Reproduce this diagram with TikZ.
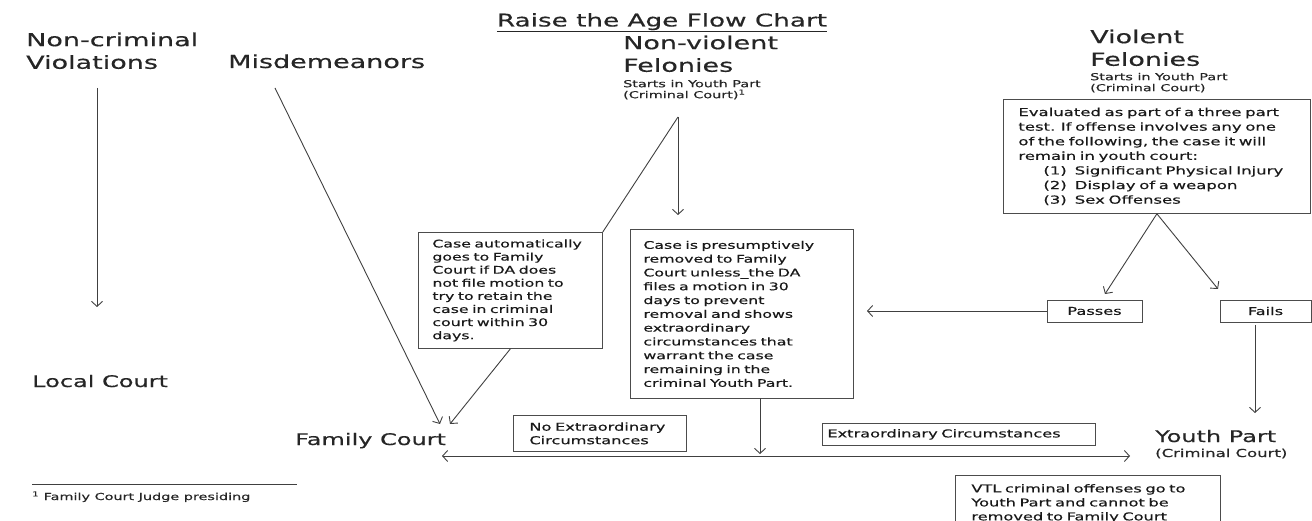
\documentclass[tikz,border=0pt]{standalone}
\usepackage{fontspec}
\setmainfont{DejaVu Sans}[FakeStretch=1.5,FakeBold=0.5]
\usetikzlibrary{arrows.meta,calc}
\begin{document}
\begin{tikzpicture}[x=1pt,y=-1pt,
  ln/.style={draw=black!75, line width=0.9pt},
  arr/.style={ln, -{Straight Barb[length=5pt,width=11pt]}},
  dbl/.style={ln, {Straight Barb[length=5pt,width=11pt]}-{Straight Barb[length=5pt,width=11pt]}},
  big/.style={font=\fontsize{18}{22.6}\selectfont, inner sep=0pt, align=left, text=black!85},
  mid/.style={font=\fontsize{16}{20}\selectfont, inner sep=0pt, text=black!85},
  small/.style={font=\fontsize{9.6}{11}\selectfont, inner sep=0pt, align=left, text=black!85},
  boxnode/.style={draw=black!70, line width=0.8pt, font=\fontsize{10.5}{13.1}\selectfont, align=left, text=black!90, anchor=north west, inner ysep=0pt},
  lbl/.style={draw=black!70, line width=0.8pt, font=\fontsize{10.8}{13.5}\selectfont, text=black!90, inner sep=0pt},
]
\useasboundingbox (0,0) rectangle (1312,521);

% title
\node[font=\fontsize{17.5}{20}\selectfont, anchor=base, inner sep=0pt, text=black!85] (title) at (662,26.5) {\underline{Raise the Age Flow Chart}};

% categories
\node[big, anchor=north west] (nc) at (26,32.3) {Non-criminal\\Violations};
\node[big, anchor=base west] (mis) at (228,68) {Misdemeanors};
\node[big, anchor=north west] (nv) at (623,35.3) {Non-violent\\Felonies};
\node[small, anchor=north west] (nvsub) at (623,79.7) {Starts in Youth Part\\(Criminal Court)\textsuperscript{1}};
\node[big, anchor=north west] (vf) at (1090,29.3) {Violent\\Felonies};
\node[small, anchor=north west] (vfsub) at (1090,72.7) {Starts in Youth Part\\(Criminal Court)};

% destinations
\node[mid, anchor=base west] (lc) at (32,387) {Local Court};
\node[mid, anchor=base west] (fc) at (295,445) {Family Court};
\node[mid, anchor=base west] (yp) at (1155,442) {Youth Part};
\node[font=\fontsize{11}{13}\selectfont, inner sep=0pt, anchor=base west, text=black!85] (ypsub) at (1155,457) {(Criminal Court)};

% boxes
\node[boxnode, minimum width=184pt, minimum height=116pt, inner xsep=14pt, text width=156pt] (box1) at (418,232)
 {Case automatically\\goes to Family\\Court if DA does\\not file motion to\\try to retain the\\case in criminal\\court within 30\\days.};
\node[boxnode, font=\fontsize{10.5}{13.8}\selectfont, minimum width=223pt, minimum height=169pt, inner xsep=13pt, text width=197pt] (box2) at (630,229)
 {Case is presumptively\\removed to Family\\Court unless\_the DA\\files a motion in 30\\days to prevent\\removal and shows\\extraordinary\\circumstances that\\warrant the case\\remaining in the\\criminal Youth Part.};
\node[boxnode, font=\fontsize{11}{14.6}\selectfont, minimum width=307pt, minimum height=114pt, inner xsep=15pt, text width=277pt] (vbox) at (1003,99)
 {Evaluated as part of a three part\\test. If offense involves any one\\of the following, the case it will\\remain in youth court:\\
 \hspace*{25pt}(1)\hspace*{8pt}Significant Physical Injury\\
 \hspace*{25pt}(2)\hspace*{8pt}Display of a weapon\\
 \hspace*{25pt}(3)\hspace*{8pt}Sex Offenses};

\node[lbl, minimum width=95pt, minimum height=22pt] (passes) at (1094.5,311) {Passes};
\node[lbl, minimum width=91pt, minimum height=22pt] (fails) at (1265.5,311) {Fails};
\node[lbl, anchor=north west, align=left, minimum width=173pt, minimum height=36pt, inner xsep=16pt, text width=141pt] (noex) at (513,415) {No Extraordinary\\Circumstances};
\node[lbl, anchor=north west, align=left, minimum width=273pt, minimum height=22pt, inner xsep=5pt, text width=263pt] (ex) at (822,423) {Extraordinary Circumstances};
\node[lbl, font=\fontsize{10.8}{14}\selectfont, anchor=north west, align=left, minimum width=265pt, minimum height=56pt, inner xsep=16pt, text width=233pt] (vtl) at (955,475) {VTL criminal offenses go to\\Youth Part and cannot be\\removed to Family Court};

% footnote
\draw[black!75, line width=0.8pt] (32,484) -- (297,484);
\node[small, anchor=base west] (fn) at (32,500) {\textsuperscript{1} Family Court Judge presiding};

% connector end points
\coordinate (ncA) at (97,88);
\coordinate (ncB) at (97,307);
\coordinate (misA) at (275,88);
\coordinate (fcIn1) at (440,424);
\coordinate (fcIn2) at (450,424);
\coordinate (nvA) at (678,117);
\coordinate (nvB) at (678,215);
\coordinate (b2out) at (760,398);
\coordinate (hMid) at (760,454);
\coordinate (hL) at (442,456);
\coordinate (hR) at (1130,456);
\coordinate (pIn) at (1105,294);
\coordinate (fIn) at (1218,289);
\coordinate (pOut) at (867,311);
\coordinate (fOut) at (1255,325);
\coordinate (ypIn) at (1255,413);

% connectors
\draw[arr] (ncA) -- (ncB);
\draw[arr] (misA) -- (fcIn1);
\draw[ln] (nvA) -- (box1.north east);
\draw[arr] (box1.south) -- (fcIn2);
\draw[arr] (nvA) -- (nvB);
\draw[arr] (b2out) -- (hMid);
\draw[dbl] (hL) -- (hR);
\draw[arr] (vbox.south) -- (pIn);
\draw[arr] (vbox.south) -- (fIn);
\draw[arr] (passes.west) -- (pOut);
\draw[arr] (fOut) -- (ypIn);
\end{tikzpicture}
\end{document}
